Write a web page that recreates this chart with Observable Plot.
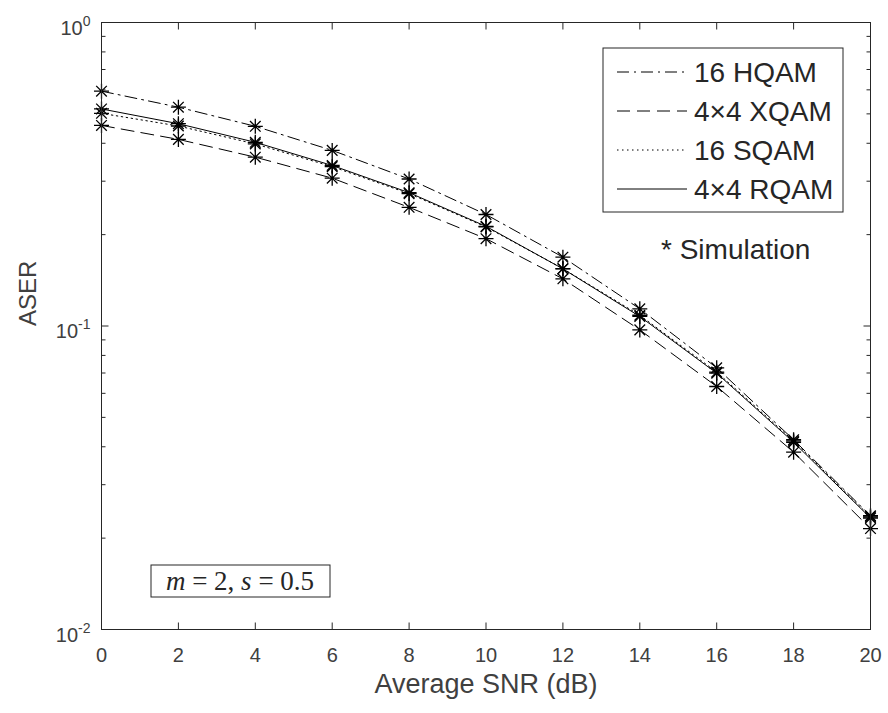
<!DOCTYPE html>
<html><head><meta charset="utf-8">
<script src="https://cdn.jsdelivr.net/npm/d3@7"></script>
<script src="https://cdn.jsdelivr.net/npm/@observablehq/plot@0.6"></script>
<style>body{margin:0;background:#fff;} #chart{position:relative;width:888px;height:713px;}</style>
</head><body><div id="chart"></div>
<script>
// ---- data ----
const snr = [0, 2, 4, 6, 8, 10, 12, 14, 16, 18, 20];
const hqam = [0.594, 0.526, 0.455, 0.379, 0.305, 0.233, 0.1686, 0.1139, 0.0728, 0.0422, 0.0237];
const xqam = [0.458, 0.412, 0.360, 0.307, 0.246, 0.194, 0.143, 0.0971, 0.0632, 0.0384, 0.0215];
const sqam = [0.502, 0.456, 0.398, 0.335, 0.273, 0.212, 0.1545, 0.1085, 0.0705, 0.0418, 0.0235];
const rqam = [0.519, 0.464, 0.403, 0.338, 0.275, 0.213, 0.1543, 0.1075, 0.0699, 0.0414, 0.0233];
const seriesNames = ["16 HQAM", "4×4 XQAM", "16 SQAM", "4×4 RQAM"];
const seriesValues = [hqam, xqam, sqam, rqam];
const seriesDash = ["12,5,2,5", "13,7", "1.5,3.5", null];
const xTicks = [0, 2, 4, 6, 8, 10, 12, 14, 16, 18, 20];
const yMajor = [0.01, 0.1, 1];
const yExponents = ["-2", "-1", "0"];
const yMinor = [0.02,0.03,0.04,0.05,0.06,0.07,0.08,0.09,0.2,0.3,0.4,0.5,0.6,0.7,0.8,0.9];
const xLabel = "Average SNR (dB)";
const yLabel = "ASER";
const simNote = "* Simulation";

// ---- build table ----
const rows = [];
seriesNames.forEach((name, s) => snr.forEach((x, i) => rows.push({series: name, snr: x, v: seriesValues[s][i]})));

const ink = "#262626";
const font = "'Liberation Sans', Arial, Helvetica, sans-serif";

// custom symbols
const star = {draw(ctx) { const r = 7.5, d = r * Math.SQRT1_2;
  ctx.moveTo(-r, 0); ctx.lineTo(r, 0); ctx.moveTo(0, -r); ctx.lineTo(0, r);
  ctx.moveTo(-d, -d); ctx.lineTo(d, d); ctx.moveTo(-d, d); ctx.lineTo(d, -d); }};
const tick = (dx, dy) => ({draw(ctx) { ctx.moveTo(0, 0); ctx.lineTo(dx, dy); }});

const lineMarks = seriesNames.map((name, s) =>
  Plot.line(rows.filter(r => r.series === name), {x: "snr", y: "v", stroke: "black", strokeWidth: 1, strokeDasharray: seriesDash[s]}));

const plot = Plot.plot({
  width: 888, height: 713,
  marginLeft: 101, marginRight: 18, marginTop: 22, marginBottom: 84,
  style: {fontFamily: font, background: "white", overflow: "visible"},
  x: {domain: [0, 20]},
  y: {type: "log", domain: [0.01, 1]},
  marks: [
    ...lineMarks,
    Plot.dot(rows, {x: "snr", y: "v", symbol: star, r: 5, stroke: "black", strokeWidth: 1.3, fill: "none"}),
    // inward ticks
    Plot.dot(xTicks, {x: d => d, y: () => 0.01, symbol: tick(0, -7), stroke: ink, strokeWidth: 1}),
    Plot.dot(xTicks, {x: d => d, y: () => 1, symbol: tick(0, 7), stroke: ink, strokeWidth: 1}),
    Plot.dot(yMajor, {x: () => 0, y: d => d, symbol: tick(7, 0), stroke: ink, strokeWidth: 1}),
    Plot.dot(yMajor, {x: () => 20, y: d => d, symbol: tick(-7, 0), stroke: ink, strokeWidth: 1}),
    Plot.dot(yMinor, {x: () => 0, y: d => d, symbol: tick(4, 0), stroke: ink, strokeWidth: 1}),
    Plot.dot(yMinor, {x: () => 20, y: d => d, symbol: tick(-4, 0), stroke: ink, strokeWidth: 1}),
    Plot.axisX({ticks: xTicks, tickSize: 0, tickPadding: 18, fontSize: 20, fill: "#404040", label: null, tickFormat: d => String(d)}),
    Plot.axisY({ticks: yMajor, tickSize: 0, tickPadding: 11, fontSize: 20, fill: "#404040", label: null, dy: 6, tickFormat: (d, i) => yExponents[yMajor.indexOf(d)]}),
    Plot.text([xLabel], {frameAnchor: "bottom", dy: 63, text: d => d, fontSize: 27, fill: "#404040"}),
    Plot.text([yLabel], {frameAnchor: "left", dx: -73, rotate: -90, text: d => d, fontSize: 24, fill: "#404040"}),
    Plot.frame({stroke: ink, strokeWidth: 1})
  ]
});

// superscript tick labels for the log axis
d3.select(plot).selectAll('g[aria-label="y-axis tick label"] text').each(function() {
  const exp = this.textContent;
  const t = d3.select(this).text("");
  t.append("tspan").text("10");
  t.append("tspan").attr("dy", -9).attr("font-size", 14).text(exp);
});

// legend and annotation
const svg = d3.select(plot);
const lg = svg.append("g").attr("font-family", font).attr("text-anchor", "start");
lg.append("rect").attr("x", 603).attr("y", 48).attr("width", 240).attr("height", 164)
  .attr("fill", "white").attr("stroke", ink).attr("stroke-width", 1);
seriesNames.forEach((name, s) => {
  const y = 72 + s * 39;
  lg.append("line").attr("x1", 617).attr("x2", 687).attr("y1", y).attr("y2", y)
    .attr("stroke", "black").attr("stroke-width", 1).attr("stroke-dasharray", seriesDash[s]);
  lg.append("text").attr("x", 694).attr("y", y + 3).attr("dominant-baseline", "middle")
    .attr("font-size", 28).attr("fill", "#262626").text(name);
});
svg.append("text").attr("x", 661).attr("y", 252).attr("dominant-baseline", "middle").attr("text-anchor", "start")
  .attr("font-family", font).attr("font-size", 28).attr("fill", "#262626").text(simNote);

const ann = svg.append("g");
ann.append("rect").attr("x", 151).attr("y", 565).attr("width", 179).attr("height", 32)
  .attr("fill", "white").attr("stroke", ink).attr("stroke-width", 1);
const at = ann.append("text").attr("x", 240).attr("y", 590).attr("text-anchor", "middle")
  .attr("font-family", "'Liberation Serif', 'DejaVu Serif', serif").attr("font-size", 27).attr("fill", "#262626");
at.append("tspan").attr("font-style", "italic").text("m");
at.append("tspan").text(" = 2, ");
at.append("tspan").attr("font-style", "italic").text("s");
at.append("tspan").text(" = 0.5");

document.getElementById("chart").appendChild(plot);
</script></body></html>
